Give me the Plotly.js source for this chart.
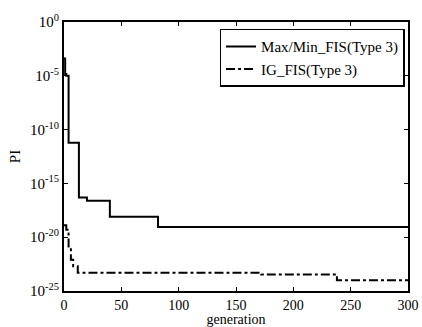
<!DOCTYPE html>
<html><head><meta charset="utf-8">
<script src="https://cdn.plot.ly/plotly-3.0.1.min.js"></script>
<style>html,body{margin:0;padding:0;background:#fff}#c{width:422px;height:327px}</style>
</head><body><div id="c"></div>
<script>
const genMaxMin = [0, 1, 2, 4, 13, 20, 40, 82, 300];
const piMaxMin = [4e-4, 1.5e-5, 1e-5, 6e-12, 5e-17, 2.5e-17, 8e-19, 9e-20, 9e-20];
const genIG = [0, 2, 4, 6, 8, 12, 172, 238, 300];
const piIG = [1.3e-19, 5e-20, 1e-21, 8e-23, 2e-23, 5e-24, 3.5e-24, 1e-24, 1e-24];
const yTickVals = [1e-25, 1e-20, 1e-15, 1e-10, 1e-5, 1];
const yTickText = ['10<sup>-25</sup>', '10<sup>-20</sup>', '10<sup>-15</sup>', '10<sup>-10</sup>', '10<sup>-5</sup>', '10<sup>0</sup>'];
const xTickVals = [0, 50, 100, 150, 200, 250, 300];

const fam = 'Liberation Serif, Times New Roman, serif';
const traces = [
  {x: genMaxMin, y: piMaxMin, type: 'scatter', mode: 'lines', name: 'Max/Min_FIS(Type 3)',
   line: {color: '#000', width: 2, shape: 'hv'}},
  {x: genIG, y: piIG, type: 'scatter', mode: 'lines', name: 'IG_FIS(Type 3)',
   line: {color: '#000', width: 2, shape: 'hv', dash: 'dashdot'}}
];
const layout = {
  width: 422, height: 327,
  margin: {l: 64, r: 14, t: 22, b: 36},
  paper_bgcolor: '#fff', plot_bgcolor: '#fff',
  font: {family: fam, color: '#000', size: 15},
  showlegend: true,
  legend: {x: 0.99, y: 0.975, xanchor: 'right', yanchor: 'top', bgcolor: '#fff',
           bordercolor: '#000', borderwidth: 1.5, font: {family: fam, size: 15, color: '#000'},
           itemwidth: 30, tracegroupgap: 0},
  xaxis: {range: [0, 300], tickvals: xTickVals, ticks: 'inside', ticklen: 4, tickcolor: '#000',
          showline: true, linecolor: '#000', linewidth: 2, mirror: 'ticks', showgrid: false, zeroline: false,
          title: {text: 'generation', font: {family: fam, size: 14}, standoff: 3},
          tickfont: {family: fam, size: 14}},
  yaxis: {type: 'log', range: [-25, 0], tickvals: yTickVals, ticktext: yTickText, ticks: 'inside', ticklen: 4,
          tickcolor: '#000', showline: true, linecolor: '#000', linewidth: 2, mirror: 'ticks', showgrid: false,
          zeroline: false, title: {text: 'PI', font: {family: fam, size: 15}, standoff: 6},
          tickfont: {family: fam, size: 15}}
};
Plotly.newPlot('c', traces, layout, {displayModeBar: false, staticPlot: true});
</script></body></html>
